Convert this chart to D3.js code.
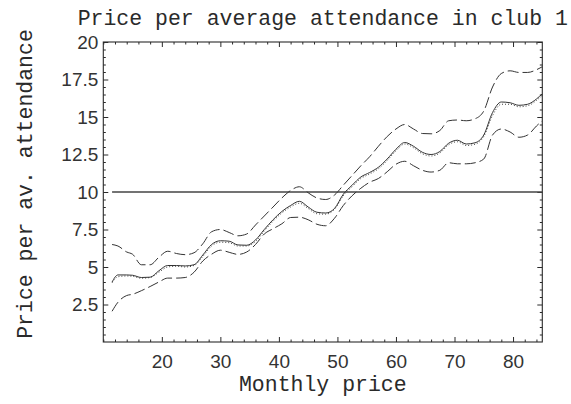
<!DOCTYPE html>
<html>
<head>
<meta charset="utf-8">
<script src="https://cdn.jsdelivr.net/npm/d3@7"></script>
<style>
  html, body { margin: 0; padding: 0; background: #fff; }
  svg { display: block; }
</style>
</head>
<body>
<svg id="chart" width="571" height="404"></svg>
<script>
// ---- data ----
const monthlyPrice = [11.5, 12.5, 14, 15, 16.5, 18, 19.5, 21, 22.5, 24, 25.5, 27, 28.5, 30, 31.5, 33, 34.5, 36, 37.5, 39, 40.5, 42, 43.5, 45, 46.5, 48, 49.5, 51, 52.5, 54, 55.5, 57, 58.5, 60, 61.5, 63, 64.5, 66, 67.5, 69, 70.5, 72, 73.5, 75, 76.5, 78, 79.5, 81, 82.5, 84, 85];
const upperBand = [6.5, 6.4, 6.0, 5.85, 5.15, 5.15, 5.65, 6.05, 5.9, 5.82, 5.95, 6.55, 7.35, 7.5, 7.3, 7.08, 7.2, 7.8, 8.4, 9.0, 9.6, 10.1, 10.35, 9.95, 9.6, 9.5, 9.8, 10.45, 11.1, 11.75, 12.35, 13.05, 13.7, 14.2, 14.5, 14.2, 13.9, 13.88, 14.1, 14.75, 14.8, 14.75, 14.88, 15.4, 17.0, 17.9, 18.08, 17.97, 17.97, 18.15, 18.35];
const pricePerAttendance = [4.0, 4.47, 4.47, 4.45, 4.3, 4.32, 4.75, 5.1, 5.1, 5.07, 5.15, 5.8, 6.5, 6.75, 6.72, 6.47, 6.45, 6.8, 7.5, 8.15, 8.7, 9.1, 9.38, 9.0, 8.65, 8.6, 8.9, 9.85, 10.45, 11.0, 11.3, 11.65, 12.2, 12.85, 13.3, 13.05, 12.65, 12.5, 12.7, 13.25, 13.45, 13.2, 13.28, 13.8, 15.3, 16.0, 15.95, 15.78, 15.85, 16.2, 16.55];
const fittedPrice = [3.95, 4.35, 4.4, 4.38, 4.25, 4.3, 4.65, 5.0, 5.05, 5.0, 5.1, 5.7, 6.4, 6.65, 6.62, 6.4, 6.4, 6.7, 7.4, 8.05, 8.6, 9.0, 9.25, 8.9, 8.55, 8.52, 8.85, 9.75, 10.35, 10.9, 11.2, 11.55, 12.1, 12.75, 13.2, 12.95, 12.55, 12.4, 12.6, 13.15, 13.35, 13.1, 13.18, 13.7, 15.1, 15.85, 15.85, 15.68, 15.75, 16.1, 16.45];
const lowerBand = [2.05, 2.65, 3.1, 3.18, 3.42, 3.7, 4.0, 4.26, 4.26, 4.3, 4.65, 5.4, 5.85, 6.12, 5.98, 5.84, 6.0, 6.5, 7.2, 7.55, 7.88, 8.3, 8.32, 8.15, 7.85, 7.75, 8.25, 9.1, 9.75, 10.25, 10.65, 10.9, 11.35, 11.85, 12.05, 11.75, 11.45, 11.33, 11.45, 11.95, 11.88, 11.88, 11.95, 12.2, 13.8, 14.2, 14.0, 13.65, 13.8, 14.4, 14.75];
const referenceLevel = 10;
const xMajorTicks = [20, 30, 40, 50, 60, 70, 80];
const xMinorTicks = [10, 12, 14, 16, 18, 22, 24, 26, 28, 32, 34, 36, 38, 42, 44, 46, 48, 52, 54, 56, 58, 62, 64, 66, 68, 72, 74, 76, 78, 82, 84];
const yMajorTicks = [2.5, 5, 7.5, 10, 12.5, 15, 17.5, 20];
const yMinorTicks = [0.5, 1, 1.5, 2, 3, 3.5, 4, 4.5, 5.5, 6, 6.5, 7, 8, 8.5, 9, 9.5, 10.5, 11, 11.5, 12, 13, 13.5, 14, 14.5, 15.5, 16, 16.5, 17, 18, 18.5, 19, 19.5];
const yTickLabels = ["2.5", "5", "7.5", "10", "12.5", "15", "17.5", "20"];
const titleText = "Price per average attendance in club 1";
const xLabelText = "Monthly price";
const yLabelText = "Price per av. attendance";

// ---- layout ----
const svg = d3.select("#chart");
const pLeft = 103.3, pRight = 542.3, pTop = 42, pBottom = 342;
const x = d3.scaleLinear().domain([10, 85]).range([pLeft, pRight]);
const y = d3.scaleLinear().domain([0, 20]).range([pBottom, pTop]);
const ink = "#2a2a2a";
const mono = "'Liberation Mono', 'DejaVu Sans Mono', monospace";
const tickFont = "'Liberation Sans', Arial, sans-serif";

// frame
svg.append("rect")
  .attr("x", pLeft).attr("y", pTop)
  .attr("width", pRight - pLeft).attr("height", pBottom - pTop)
  .attr("fill", "none").attr("stroke", ink).attr("stroke-width", 1.1);

function styleAxis(g) {
  g.select(".domain").remove();
  g.selectAll(".tick line").attr("stroke", ink).attr("stroke-width", 1);
  g.selectAll(".tick text").attr("fill", "#333").style("font-family", tickFont).style("font-size", "19px");
}

// bottom axis
svg.append("g").attr("transform", `translate(0,${pBottom})`)
  .call(d3.axisBottom(x).tickValues(xMajorTicks).tickSize(-5).tickPadding(13).tickFormat(d3.format("d")))
  .call(styleAxis);
svg.append("g").attr("transform", `translate(0,${pBottom})`)
  .call(d3.axisBottom(x).tickValues(xMinorTicks).tickSize(-2.5).tickFormat(""))
  .call(styleAxis);
// top axis (ticks only)
svg.append("g").attr("transform", `translate(0,${pTop})`)
  .call(d3.axisTop(x).tickValues(xMajorTicks).tickSize(-5).tickFormat(""))
  .call(styleAxis);
svg.append("g").attr("transform", `translate(0,${pTop})`)
  .call(d3.axisTop(x).tickValues(xMinorTicks).tickSize(-2.5).tickFormat(""))
  .call(styleAxis);
// left axis
svg.append("g").attr("transform", `translate(${pLeft},0)`)
  .call(d3.axisLeft(y).tickValues(yMajorTicks).tickSize(-5).tickPadding(5)
    .tickFormat((d, i) => yTickLabels[i]))
  .call(styleAxis);
svg.append("g").attr("transform", `translate(${pLeft},0)`)
  .call(d3.axisLeft(y).tickValues(yMinorTicks).tickSize(-2.5).tickFormat(""))
  .call(styleAxis);
// right axis (ticks only)
svg.append("g").attr("transform", `translate(${pRight},0)`)
  .call(d3.axisRight(y).tickValues(yMajorTicks).tickSize(-5).tickFormat(""))
  .call(styleAxis);
svg.append("g").attr("transform", `translate(${pRight},0)`)
  .call(d3.axisRight(y).tickValues(yMinorTicks).tickSize(-2.5).tickFormat(""))
  .call(styleAxis);

// clip
svg.append("clipPath").attr("id", "plotclip")
  .append("rect").attr("x", pLeft).attr("y", pTop).attr("width", pRight - pLeft).attr("height", pBottom - pTop);
const plot = svg.append("g").attr("clip-path", "url(#plotclip)");

// reference line at 10
plot.append("line")
  .attr("x1", x(monthlyPrice[0])).attr("x2", x(monthlyPrice[monthlyPrice.length - 1]))
  .attr("y1", y(referenceLevel)).attr("y2", y(referenceLevel))
  .attr("stroke", "#444").attr("stroke-width", 1.3);

function series(vals, dash, width, color) {
  const line = d3.line().x((d, i) => x(monthlyPrice[i])).y(d => y(d)).curve(d3.curveMonotoneX);
  plot.append("path").datum(vals)
    .attr("d", line)
    .attr("fill", "none")
    .attr("stroke", color)
    .attr("stroke-width", width)
    .attr("stroke-dasharray", dash);
}
series(fittedPrice, "1,2", 1, "#444");
series(pricePerAttendance, null, 1, "#333");
series(upperBand, "11,4", 1, "#333");
series(lowerBand, "11,4", 1, "#333");

// titles
svg.append("text").attr("x", (pLeft + pRight) / 2).attr("y", 25)
  .attr("text-anchor", "middle").attr("fill", ink)
  .style("font-family", mono).style("font-size", "21.5px").text(titleText);
svg.append("text").attr("x", (pLeft + pRight) / 2).attr("y", 391)
  .attr("text-anchor", "middle").attr("fill", ink)
  .style("font-family", mono).style("font-size", "21.5px").text(xLabelText);
svg.append("text")
  .attr("transform", `translate(32,${(pTop + pBottom) / 2 - 8}) rotate(-90)`)
  .attr("text-anchor", "middle").attr("fill", ink)
  .style("font-family", mono).style("font-size", "21.5px").text(yLabelText);
</script>
</body>
</html>
